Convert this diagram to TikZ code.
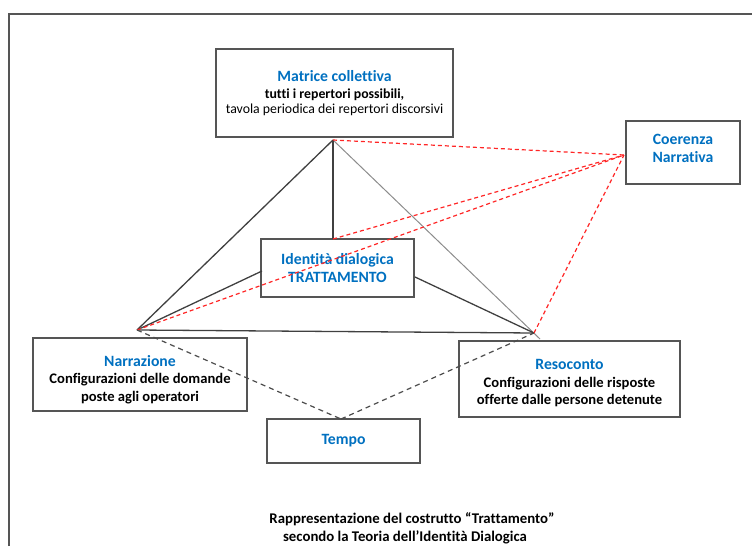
\documentclass[tikz,border=0pt]{standalone}
\usepackage{fontspec}
\setmainfont{Carlito}[Ligatures={NoCommon}]
\usetikzlibrary{calc}
\definecolor{ttblue}{RGB}{0,112,192}
\definecolor{boxgray}{RGB}{85,85,85}
\tikzset{
  box/.style={draw=boxgray,line width=1.4pt,rectangle,inner sep=0pt,align=center,font=\fontsize{13.8}{16}\selectfont},
  bodybold/.style={font=\bfseries\fontsize{14.6}{17.5}\selectfont},
  solidline/.style={draw=black!75,line width=1.3pt},
  thinline/.style={draw=black!45,line width=1pt},
  reddash/.style={draw=red!85,line width=1.2pt,dash pattern=on 4pt off 3pt},
  blackdash/.style={draw=black!70,line width=1.2pt,dash pattern=on 5pt off 4pt},
  captionstyle/.style={font=\bfseries\fontsize{14.8}{17}\selectfont,inner sep=0pt}
}
\newcommand{\bt}[1]{{\color{ttblue}\bfseries\fontsize{15.7}{18}\selectfont #1}}
\begin{document}
\begin{tikzpicture}[x=1pt,y=-1pt]
\useasboundingbox (0,0) rectangle (752,546);
% frame
\draw[draw=boxgray,line width=1.4pt] (9,546) -- (9,14) -- (752,14);
% boxes
\node[box,minimum width=237pt,minimum height=88pt] (mat) at (334.5,93)
  {\bt{Matrice collettiva}\\[1pt]{\bfseries tutti i repertori possibili,}\\[-1pt]tavola periodica dei repertori discorsivi};
\node[box,minimum width=114pt,minimum height=63pt] (coe) at (683,152.5)
  {\bt{Coerenza}\\[2pt]\bt{Narrativa}\rule[-8pt]{0pt}{8pt}};
\node[box,minimum width=153pt,minimum height=58pt] (id) at (337.5,268)
  {\bt{Identità dialogica}\\[2pt]\bt{TRATTAMENTO}};
\node[box,bodybold,minimum width=214pt,minimum height=73pt] (nar) at (140,374.5)
  {\rule{0pt}{21pt}\bt{Narrazione}\\Configurazioni delle domande\\poste agli operatori};
\node[box,bodybold,minimum width=221pt,minimum height=76pt] (res) at (569.5,379)
  {\rule{0pt}{19pt}\bt{Resoconto}\\Configurazioni delle risposte\\offerte dalle persone detenute};
\node[box,minimum width=153pt,minimum height=44pt] (tem) at (343.5,441)
  {\bt{Tempo}};
% caption
\node[captionstyle] (cap1) at (412,519) {Rappresentazione del costrutto “Trattamento”};
\node[captionstyle] (cap2) at (405,537) {secondo la Teoria dell’Identità Dialogica};
% key points
\coordinate (apex) at (333,140);
\coordinate (np) at (137,330);
\coordinate (rp) at (534,333);
\coordinate (rpx) at (540,339);
\coordinate (cp) at (624,155);
\coordinate (idtop) at (333,239);
\coordinate (idl) at (262,271);
\coordinate (idr) at (415,277);
\coordinate (ttop) at (341,419);
% solid lines
\draw[solidline] (apex) -- (np);
\draw[thinline] (apex) -- (rpx);
\draw[solidline] (apex) -- (idtop);
\draw[solidline] (np) -- (idl);
\draw[solidline] (idr) -- (rp);
\draw[solidline] (np) -- (rp);
% red dashed to Coerenza
\draw[reddash] (apex) -- (cp);
\draw[reddash] (idtop) -- (cp);
\draw[reddash] (np) -- (cp);
\draw[reddash] (rp) -- (cp);
% black dashed to Tempo
\draw[blackdash] (np) -- (ttop);
\draw[blackdash] (ttop) -- (rp);
\end{tikzpicture}
\end{document}
